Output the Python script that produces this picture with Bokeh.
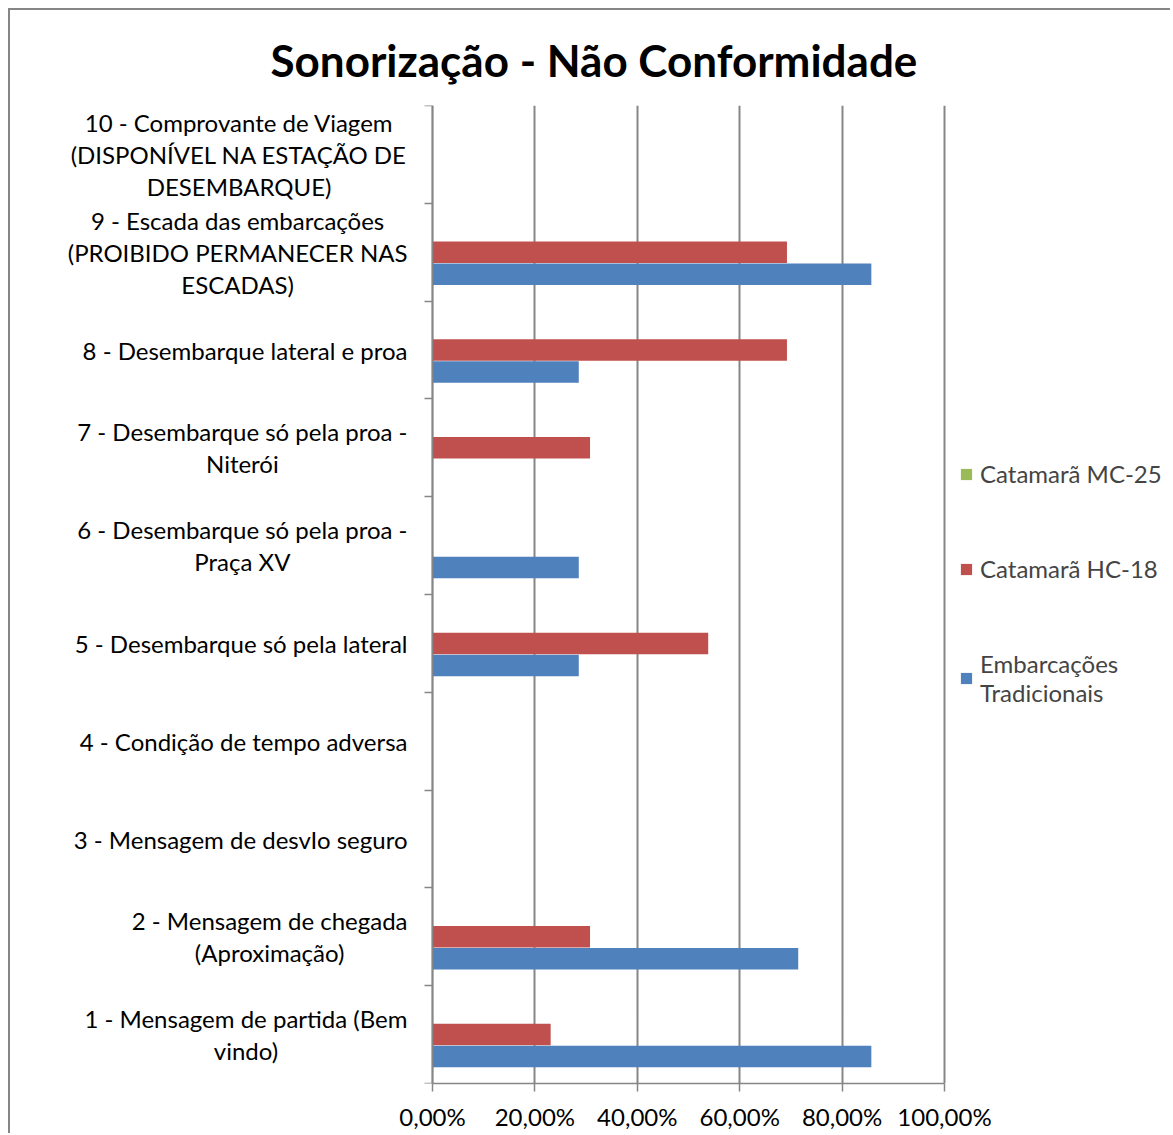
from bokeh.plotting import figure
from bokeh.models import FixedTicker, Range1d, Legend, LegendItem, ColumnDataSource
from bokeh.core.properties import value
from bokeh.embed import file_html
from bokeh.resources import INLINE
from bokeh.transform import dodge

categories = [
    "1 - Mensagem de partida (Bem\nvindo)",
    "2 - Mensagem de chegada\n(Aproximação)",
    "3 - Mensagem de desvIo seguro",
    "4 - Condição de tempo adversa",
    "5 - Desembarque só pela lateral",
    "6 - Desembarque só pela proa -\nPraça XV",
    "7 - Desembarque só pela proa -\nNiterói",
    "8 - Desembarque lateral e proa",
    "9 - Escada das embarcações\n(PROIBIDO PERMANECER NAS\nESCADAS)",
    "10 - Comprovante de Viagem\n(DISPONÍVEL NA ESTAÇÃO DE\nDESEMBARQUE)",
]
embarcacoes_tradicionais = [85.71, 71.43, 0, 0, 28.57, 28.57, 0, 28.57, 85.71, 0]
catamara_hc18 = [23.08, 30.77, 0, 0, 53.85, 0, 30.77, 69.23, 69.23, 0]
catamara_mc25 = [0, 0, 0, 0, 0, 0, 0, 0, 0, 0]
x_ticks = [0, 20, 40, 60, 80, 100]
x_tick_labels = ["0,00%", "20,00%", "40,00%", "60,00%", "80,00%", "100,00%"]
series_names = ["Catamarã MC-25", "Catamarã HC-18", "Embarcações\nTradicionais"]

FONT = "Lato"
FS = 24
PLOT_W = 512                     # pixel width of the 0..100 % span
PX = PLOT_W / 100.0              # pixels per percent
LABEL_SPACE = 402                # pixels left of 0 % reserved for category labels
LEGEND_SPACE = 226               # pixels right of 100 % reserved for the legend
FRAME_W = LABEL_SPACE + PLOT_W + LEGEND_SPACE
FRAME_H = 978

centers = [i + 0.5 for i in range(len(categories))]
bounds = [float(i) for i in range(len(categories) + 1)]

src = ColumnDataSource(dict(y=centers, trad=embarcacoes_tradicionais,
                            hc=catamara_hc18, mc=catamara_mc25))
lab_src = ColumnDataSource(dict(y=centers, text=categories,
                                x=[-25 / PX] * len(categories)))

p = figure(frame_width=FRAME_W, frame_height=FRAME_H, output_backend="svg", toolbar_location=None,
           x_range=Range1d(-LABEL_SPACE / PX, 100 + LEGEND_SPACE / PX),
           y_range=Range1d(0, len(categories)),
           min_border_left=20, min_border_right=0, min_border_top=95,
           min_border_bottom=50)
p.styles = {"border-left": "2px solid #868686", "border-top": "2px solid #868686",
            "margin-left": "8px", "margin-top": "8px"}
p.outline_line_color = None

p.title.text = "Sonorização - Não Conformidade"
p.title.text_font = FONT
p.title.text_font_size = "44px"
p.title.text_font_style = "bold"
p.title.text_color = "black"
p.title.align = "left"
p.title.offset = 240
p.title.standoff = 39

h = 0.22
g = p.hbar(y=dodge("y", 0.225), right="mc", height=h, source=src, color="#9bbb59", line_color=None)
r = p.hbar(y="y", right="hc", height=h, source=src, color="#c0504d", line_color=None)
b = p.hbar(y=dodge("y", -0.225), right="trad", height=h, source=src, color="#4f81bd", line_color=None)

# category labels: block anchored at its right edge, lines centred
p.text(x="x", y="y", text="text", source=lab_src, anchor="center_right", text_align="center",
       text_baseline="middle", text_font=value(FONT), text_font_size=f"{FS}px",
       text_color="black", text_line_height=1.1)

# x axis
p.xaxis.bounds = (0, 100)
p.xaxis.ticker = FixedTicker(ticks=x_ticks)
p.xaxis.major_label_overrides = {t: l for t, l in zip(x_ticks, x_tick_labels)}
p.xaxis.minor_tick_line_color = None
p.xaxis.major_tick_in = 0
p.xaxis.major_tick_out = 8
p.xaxis.axis_line_color = "#868686"
p.xaxis.major_tick_line_color = "#868686"
p.xaxis.axis_line_width = 1.5
p.xaxis.major_tick_line_width = 1.5
p.xaxis.major_label_text_font = FONT
p.xaxis.major_label_text_font_size = f"{FS}px"
p.xaxis.major_label_text_color = "black"
p.xaxis.major_label_standoff = 10

# y axis drawn at 0 %, tick marks at category boundaries
p.yaxis.fixed_location = 0
p.yaxis.ticker = FixedTicker(ticks=centers, minor_ticks=bounds)
p.yaxis.major_label_overrides = {c: "" for c in centers}
p.yaxis.major_label_standoff = 0
p.yaxis.major_tick_line_color = None
p.yaxis.major_tick_in = 0
p.yaxis.major_tick_out = 0
p.yaxis.minor_tick_in = 0
p.yaxis.minor_tick_out = 8
p.yaxis.minor_tick_line_color = "#868686"
p.yaxis.minor_tick_line_width = 1.5
p.yaxis.axis_line_color = "#868686"
p.yaxis.axis_line_width = 1.5

p.ygrid.grid_line_color = None
p.xgrid.ticker = FixedTicker(ticks=x_ticks)
p.xgrid.grid_line_color = "#868686"
p.xgrid.grid_line_width = 2

legend = Legend(items=[LegendItem(label=series_names[0], renderers=[g]),
                       LegendItem(label=series_names[1], renderers=[r]),
                       LegendItem(label=series_names[2], renderers=[b])],
                location=(LABEL_SPACE + PLOT_W + 15, 376), orientation="vertical")
legend.border_line_color = None
legend.background_fill_alpha = 0
legend.margin = 0
legend.padding = 14
legend.glyph_width = 14
legend.glyph_height = 14
legend.label_standoff = 7
legend.spacing = 66
legend.label_text_font = FONT
legend.label_text_font_size = f"{FS}px"
legend.label_text_line_height = 1.7
p.add_layout(legend)

open("out.html", "w").write(file_html(p, INLINE))
